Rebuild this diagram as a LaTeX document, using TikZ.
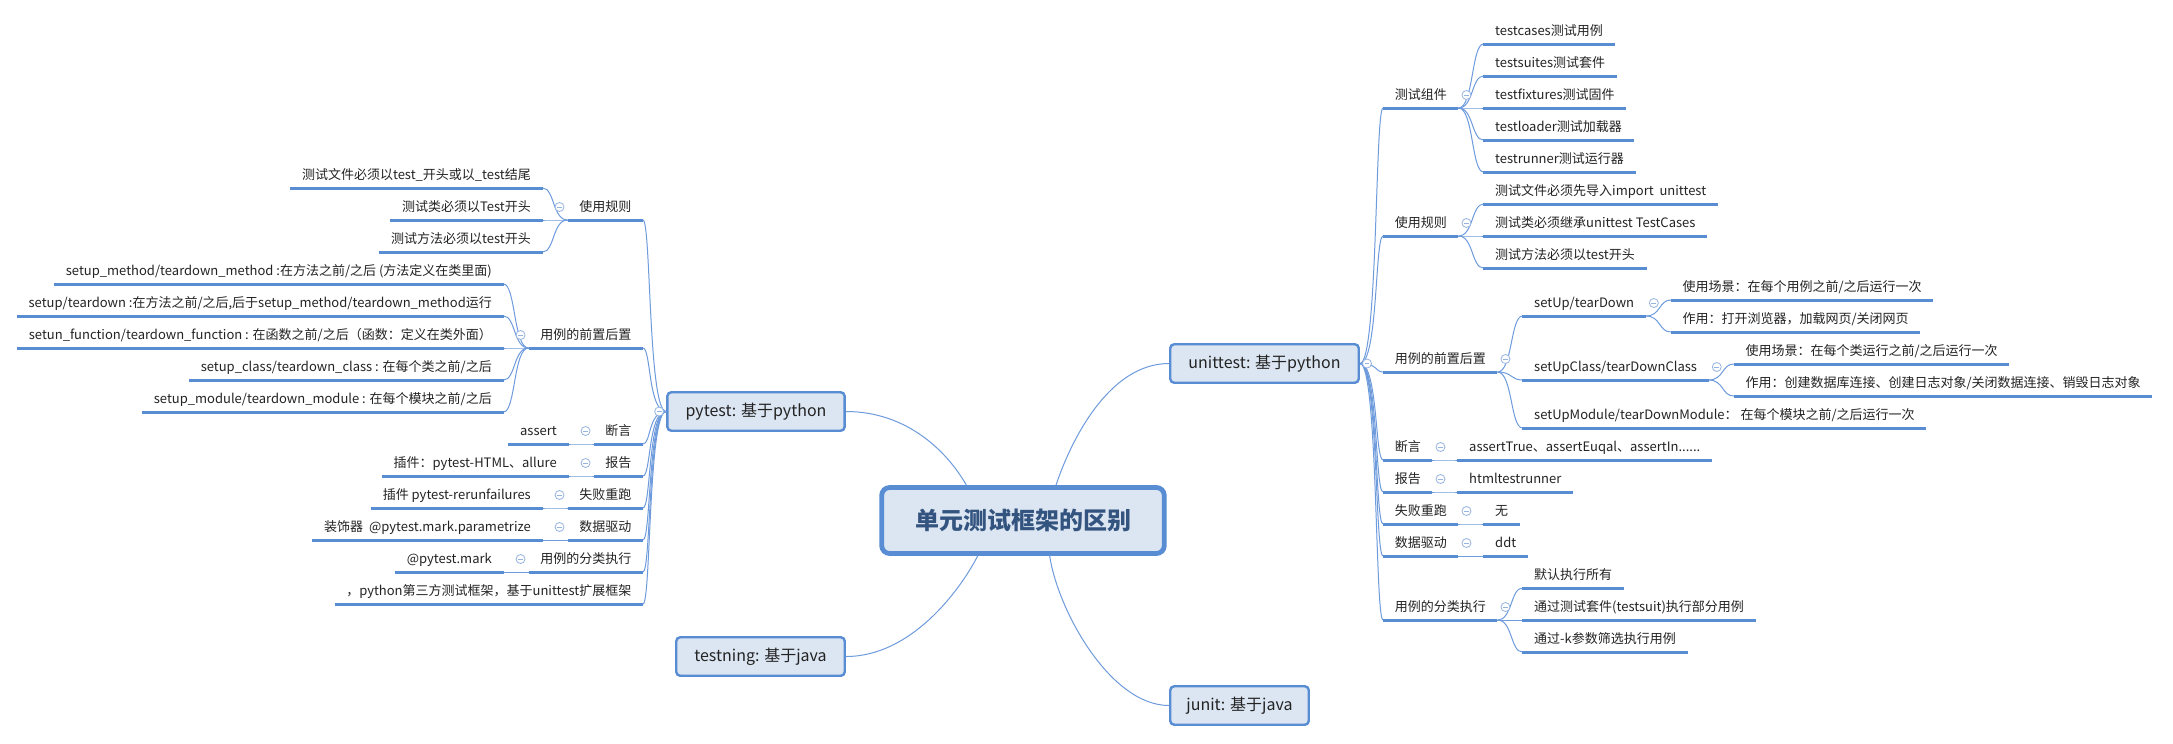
\documentclass[tikz,border=0pt]{standalone}
\usepackage{fontspec}
\setmainfont{Noto Sans CJK SC}
\definecolor{linecol}{RGB}{88,141,212}
\definecolor{fillcol}{RGB}{220,230,242}
\definecolor{linkcol}{RGB}{110,155,220}
\definecolor{foldcol}{RGB}{150,180,225}
\definecolor{rootcol}{RGB}{52,84,128}
\definecolor{txtcol}{RGB}{35,35,35}
\tikzset{
  root/.style={draw=linecol, line width=3.6pt, fill=fillcol, rounded corners=6pt,
    minimum width=212pt, minimum height=49.5pt, text=rootcol,
    font=\fontsize{18pt}{20pt}\selectfont\bfseries},
  topic/.style={draw=linecol, line width=1.8pt, fill=fillcol, rounded corners=3pt,
    minimum height=28.9pt, text=txtcol, font=\fontsize{12pt}{14pt}\selectfont},
  uline/.style={draw=linecol, line width=2.25pt},
  item/.style={inner xsep=8.6pt, inner ysep=3.75pt, text height=7.5pt, text depth=2.25pt,
    text=txtcol, font=\fontsize{9.75pt}{11pt}\selectfont,
    append after command={(\tikzlastnode.south west) edge[uline] (\tikzlastnode.south east)}},
  link/.style={draw=linkcol, line width=0.75pt},
  fold/.style={circle, draw=foldcol, fill=white, line width=0.6pt, minimum size=6.75pt, inner sep=0pt,
    path picture={\draw[foldcol, line width=0.6pt]
      ([xshift=-1.8pt]path picture bounding box.center) -- ([xshift=1.8pt]path picture bounding box.center);}},
}
\begin{document}
\begin{tikzpicture}[x=0.75pt,y=-0.75pt]
\useasboundingbox[fill=white] (0,0) rectangle (2173,743);
% main topics
\node[root] (root) at (1023,520.5) {单元测试框架的区别};
\node[topic, minimum width=133pt] (pytest) at (756,411.5) {pytest: 基于python};
\node[topic, minimum width=126.4pt] (testng) at (760.5,656.5) {testning: 基于java};
\node[topic, minimum width=141.4pt] (unittest) at (1264.5,363.5) {unittest: 基于python};
\node[topic, minimum width=103.9pt] (junit) at (1239.5,705.5) {junit: 基于java};
\draw[link] (pytest.east) .. controls +(60,0) and +(-20,-35) .. (root.148);
\draw[link] (testng.east) .. controls +(65,0) and +(-18,35) .. (root.218);
\draw[link] (root.47) .. controls +(15,-45) and +(-60,0) .. (unittest.west);
\draw[link] (root.307) .. controls +(8,54) and +(-59,0) .. (junit.west);

% unittest branch
\node[item, anchor=south west] (zj) at (1383,108) {测试组件};
\node[item, anchor=south west] (gz) at (1383,236) {使用规则};
\node[item, anchor=south west] (qz) at (1383,372) {用例的前置后置};
\node[item, anchor=south west] (dy) at (1383,460) {断言};
\node[item, anchor=south west] (bg) at (1383,492) {报告};
\node[item, anchor=south west] (sb) at (1383,524) {失败重跑};
\node[item, anchor=south west] (sj) at (1383,556) {数据驱动};
\node[item, anchor=south west] (fl) at (1383,620) {用例的分类执行};

\node[item, anchor=south west] (zj1) at ([shift={(25,-64)}]zj.south east) {testcases测试用例};
\node[item, anchor=south west] (zj2) at ([shift={(25,-32)}]zj.south east) {testsuites测试套件};
\node[item, anchor=south west] (zj3) at ([shift={(25,0)}]zj.south east) {testfixtures测试固件};
\node[item, anchor=south west] (zj4) at ([shift={(25,32)}]zj.south east) {testloader测试加载器};
\node[item, anchor=south west] (zj5) at ([shift={(25,64)}]zj.south east) {testrunner测试运行器};
\node[item, anchor=south west] (gz1) at ([shift={(25,-32)}]gz.south east) {测试文件必须先导入import~~unittest};
\node[item, anchor=south west] (gz2) at ([shift={(25,0)}]gz.south east) {测试类必须继承unittest TestCases};
\node[item, anchor=south west] (gz3) at ([shift={(25,32)}]gz.south east) {测试方法必须以test开头};
\node[item, anchor=south west] (su) at ([shift={(25,-56)}]qz.south east) {setUp/tearDown};
\node[item, anchor=south west] (suc) at ([shift={(25,8)}]qz.south east) {setUpClass/tearDownClass};
\node[item, anchor=south west] (sum) at ([shift={(25,56)}]qz.south east) {setUpModule/tearDownModule： 在每个模块之前/之后运行一次};
\node[item, anchor=south west] (su1) at ([shift={(25,-16)}]su.south east) {使用场景：在每个用例之前/之后运行一次};
\node[item, anchor=south west] (su2) at ([shift={(25,16)}]su.south east) {作用：打开浏览器，加载网页/关闭网页};
\node[item, anchor=south west] (suc1) at ([shift={(25,-16)}]suc.south east) {使用场景：在每个类运行之前/之后运行一次};
\node[item, anchor=south west] (suc2) at ([shift={(25,16)}]suc.south east) {作用：创建数据库连接、创建日志对象/关闭数据连接、销毁日志对象};
\node[item, anchor=south west] (dy1) at ([shift={(25,0)}]dy.south east) {assertTrue、assertEuqal、assertIn......};
\node[item, anchor=south west] (bg1) at ([shift={(25,0)}]bg.south east) {htmltestrunner};
\node[item, anchor=south west] (sb1) at ([shift={(25,0)}]sb.south east) {无};
\node[item, anchor=south west] (sj1) at ([shift={(25,0)}]sj.south east) {ddt};
\node[item, anchor=south west] (fl1) at ([shift={(25,-32)}]fl.south east) {默认执行所有};
\node[item, anchor=south west] (fl2) at ([shift={(25,0)}]fl.south east) {通过测试套件(testsuit)执行部分用例};
\node[item, anchor=south west] (fl3) at ([shift={(25,32)}]fl.south east) {通过-k参数筛选执行用例};

\foreach \n in {zj,gz,qz,dy,bg,sb,sj,fl}
  \draw[link] (unittest.east) .. controls +(18,0) and +(-8,0) .. (\n.south west);
\foreach \p/\c in {zj/zj1,zj/zj2,zj/zj3,zj/zj4,zj/zj5,gz/gz1,gz/gz2,gz/gz3,
    qz/su,qz/suc,qz/sum,su/su1,su/su2,suc/suc1,suc/suc2,
    dy/dy1,bg/bg1,sb/sb1,sj/sj1,fl/fl1,fl/fl2,fl/fl3}
  \draw[link] (\p.south east) .. controls +(15,0) and +(-12,0) .. (\c.south west);

% pytest branch
\node[item, anchor=south east] (pgz) at (643,220) {使用规则};
\node[item, anchor=south east] (pqz) at (643,348) {用例的前置后置};
\node[item, anchor=south east] (pdy) at (643,444) {断言};
\node[item, anchor=south east] (pbg) at (643,476) {报告};
\node[item, anchor=south east] (psb) at (643,508) {失败重跑};
\node[item, anchor=south east] (psj) at (643,540) {数据驱动};
\node[item, anchor=south east] (pfl) at (643,572) {用例的分类执行};
\node[item, anchor=south east] (pdesc) at (643,604) {，python第三方测试框架，基于unittest扩展框架};

\node[item, anchor=south east] (pgz1) at ([shift={(-25,-32)}]pgz.south west) {测试文件必须以test\_开头或以\_test结尾};
\node[item, anchor=south east] (pgz2) at ([shift={(-25,0)}]pgz.south west) {测试类必须以Test开头};
\node[item, anchor=south east] (pgz3) at ([shift={(-25,32)}]pgz.south west) {测试方法必须以test开头};
\node[item, anchor=south east] (pqz1) at ([shift={(-25,-64)}]pqz.south west) {setup\_method/teardown\_method :在方法之前/之后 (方法定义在类里面)};
\node[item, anchor=south east] (pqz2) at ([shift={(-25,-32)}]pqz.south west) {setup/teardown :在方法之前/之后,后于setup\_method/teardown\_method运行};
\node[item, anchor=south east] (pqz3) at ([shift={(-25,0)}]pqz.south west) {setun\_function/teardown\_function : 在函数之前/之后（函数：定义在类外面）};
\node[item, anchor=south east] (pqz4) at ([shift={(-25,32)}]pqz.south west) {setup\_class/teardown\_class : 在每个类之前/之后};
\node[item, anchor=south east] (pqz5) at ([shift={(-25,64)}]pqz.south west) {setup\_module/teardown\_module : 在每个模块之前/之后};
\node[item, anchor=south east] (pdy1) at ([shift={(-25,0)}]pdy.south west) {assert};
\node[item, anchor=south east] (pbg1) at ([shift={(-25,0)}]pbg.south west) {插件：pytest-HTML、allure};
\node[item, anchor=south east] (psb1) at ([shift={(-25,0)}]psb.south west) {插件 pytest-rerunfailures};
\node[item, anchor=south east] (psj1) at ([shift={(-25,0)}]psj.south west) {装饰器~~@pytest.mark.parametrize};
\node[item, anchor=south east] (pfl1) at ([shift={(-25,0)}]pfl.south west) {@pytest.mark};

\foreach \n in {pgz,pqz,pdy,pbg,psb,psj,pfl,pdesc}
  \draw[link] (pytest.west) .. controls +(-18,0) and +(8,0) .. (\n.south east);
\foreach \p/\c in {pgz/pgz1,pgz/pgz2,pgz/pgz3,pqz/pqz1,pqz/pqz2,pqz/pqz3,pqz/pqz4,pqz/pqz5,
    pdy/pdy1,pbg/pbg1,psb/psb1,psj/psj1,pfl/pfl1}
  \draw[link] (\p.south west) .. controls +(-15,0) and +(12,0) .. (\c.south east);

% fold markers
\foreach \n in {zj,gz,qz,su,suc,dy,bg,sb,sj,fl}
  \node[fold] (f-\n) at ([shift={(8,-13)}]\n.south east) {};
\foreach \n in {pgz,pqz,pdy,pbg,psb,psj,pfl}
  \node[fold] (f-\n) at ([shift={(-8,-13)}]\n.south west) {};
\node[fold] (f-unittest) at ([shift={(7,0)}]unittest.east) {};
\node[fold] (f-pytest) at ([shift={(-7,0)}]pytest.west) {};
\end{tikzpicture}
\end{document}
